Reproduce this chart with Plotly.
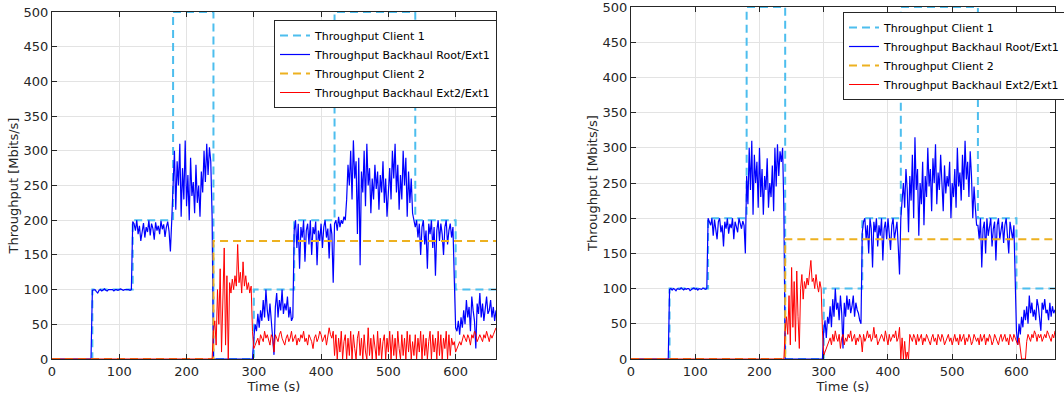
import numpy as np
import plotly.graph_objects as go

# Time grid (s) for the measured series, 2 s sampling
time_s = np.arange(0, 661, 2)

# Step-shaped offered loads
client1_t = [0, 60, 60, 120, 120, 180, 180, 240, 240, 300, 300, 360, 360, 420, 420, 540, 540, 600, 600, 660]
client1_v = [0, 0, 100, 100, 200, 200, 500, 500, 0, 0, 100, 100, 200, 200, 500, 500, 200, 200, 100, 100]
client2_t = [0, 240, 240, 660]
client2_v = [0, 0, 170, 170]

# ---------------- Left chart ----------------
root_left = (
    [0] * 30
    + [99, 100, 100, 97, 95, 99, 100, 98, 100, 101, 99, 98, 100, 100, 99, 100, 98, 100, 100, 99,
       100, 101, 100, 99, 100, 100, 101, 100, 99, 100]
    + [198, 195, 185, 200, 180, 192, 170, 188, 196, 175, 190, 183, 200, 178, 195, 188, 172, 197, 185, 192,
       180, 199, 187, 194, 176, 190, 198, 184, 155, 200]
    + [240, 300, 215, 285, 250, 310, 205, 275, 230, 315, 220, 265, 200, 290, 235, 255, 210, 280, 225, 250,
       205, 270, 240, 300, 255, 310, 265, 305, 285, 205]
    + [0] * 30
    + [30, 50, 40, 65, 45, 70, 55, 85, 60, 100, 70, 55, 80, 60, 30, 6, 75, 95, 60, 85,
       70, 100, 65, 80, 70, 90, 60, 75, 55, 60]
    + [185, 200, 160, 195, 130, 190, 175, 200, 140, 185, 195, 165, 200, 150, 190, 180, 198, 135, 185, 170,
       195, 160, 190, 200, 175, 188, 145, 195, 180, 110]
    + [195, 200, 185, 205, 190, 200, 195, 205, 200, 230, 280, 250, 300, 230, 315, 260, 285, 180, 290, 135,
       270, 240, 300, 220, 310, 250, 275, 210, 260, 230, 280, 245, 270, 215, 265, 240, 285, 225, 260, 205,
       250, 275, 230, 300, 260, 310, 240, 280, 215, 265, 230, 300, 250, 290, 205, 270, 225, 260, 210, 200]
    + [190, 200, 175, 195, 150, 190, 200, 165, 185, 130, 195, 180, 200, 160, 190, 120, 185, 200, 170, 195,
       180, 150, 190, 200, 165, 185, 195, 175, 190, 115]
    + [45, 40, 55, 35, 60, 45, 70, 50, 85, 60, 75, 40, 90, 70, 55, 15, 80, 65, 95, 60,
       80, 55, 75, 90, 65, 70, 85, 60, 75, 55, 70]
)

ext_left = (
    [0] * 120
    + [40, 55, 20, 100, 50, 130, 10, 90, 160, 20, 120, 0, 110, 95, 115, 100, 120, 105, 165, 110,
       125, 95, 140, 105, 120, 100, 110, 95, 105, 40]
    + [15, 20, 25, 30, 20, 35, 30, 25, 40, 30, 35, 25, 20, 35, 30, 10, 35, 30, 25, 35,
       40, 30, 25, 20, 30, 35, 25, 30, 40, 25, 30, 35, 20, 30, 25, 35, 30, 40, 25, 30,
       20, 35, 30, 25, 15, 30, 35, 25, 30, 40, 35, 25, 30, 35, 20, 30, 45, 35, 30, 40]
    + [5, 35, 0, 30, 10, 40, 0, 25, 35, 0, 30, 5, 40, 0, 35, 15, 0, 30, 40, 5,
       30, 0, 35, 10, 0, 45, 5, 30, 0, 35, 20, 0, 40, 5, 30, 0, 25, 35, 0, 30,
       10, 40, 0, 35, 5, 30, 0, 40, 15, 0, 35, 5, 30, 0, 40, 10, 35, 0, 25, 5,
       35, 0, 30, 10, 40, 0, 35, 5, 30, 0, 25, 40, 0, 35, 10, 30, 0, 40, 5, 35,
       0, 30, 15, 40, 0, 35, 5, 30, 20, 25]
    + [10, 15, 20, 25, 20, 30, 35, 30, 25, 35, 30, 20, 35, 30, 40, 35, 25, 30, 35, 30,
       25, 35, 30, 40, 30, 25, 35, 30, 35, 40, 45]
)

# ---------------- Right chart ----------------
root_right = (
    [0] * 30
    + [99, 100, 98, 100, 99, 97, 100, 100, 99, 101, 100, 98, 100, 99, 100, 100, 97, 99, 100, 101,
       99, 100, 98, 100, 100, 99, 101, 100, 99, 100]
    + [200, 195, 190, 200, 175, 198, 185, 170, 195, 200, 180, 190, 160, 195, 185, 200, 178, 192, 186, 200,
       170, 195, 188, 180, 200, 192, 185, 196, 190, 150]
    + [260, 220, 300, 240, 310, 205, 290, 250, 280, 215, 300, 230, 270, 205, 260, 240, 285, 215, 250, 230,
       275, 210, 300, 245, 305, 260, 295, 280, 300, 210]
    + [0] * 30
    + [40, 55, 30, 60, 50, 75, 45, 85, 60, 100, 70, 80, 55, 90, 65, 15, 80, 60, 90, 70,
       85, 65, 75, 90, 60, 80, 70, 65, 55, 50]
    + [180, 195, 200, 170, 190, 150, 200, 185, 130, 195, 180, 200, 160, 190, 175, 200, 140, 185, 195, 170,
       200, 180, 155, 190, 200, 170, 185, 195, 160, 120]
    + [200, 230, 250, 215, 270, 240, 180, 260, 225, 290, 200, 315, 240, 270, 175, 250, 220, 280, 190, 260,
       230, 300, 245, 270, 210, 285, 250, 305, 220, 265, 240, 290, 255, 210, 275, 235, 260, 245, 280, 200,
       250, 230, 270, 215, 300, 245, 265, 225, 290, 240, 310, 255, 280, 230, 295, 260, 200, 245, 215, 190]
    + [190, 170, 200, 130, 185, 195, 150, 200, 175, 190, 200, 160, 185, 195, 140, 190, 200, 170, 185, 195,
       165, 190, 200, 180, 150, 195, 185, 170, 190, 120]
    + [40, 20, 50, 35, 60, 45, 70, 55, 75, 50, 90, 65, 80, 60, 70, 55, 85, 75, 60, 40,
       80, 70, 85, 65, 70, 55, 80, 60, 75, 65, 70]
)

ext_right = (
    [0] * 120
    + [40, 60, 35, 90, 20, 130, 45, 110, 25, 125, 60, 15, 100, 120, 85, 110, 100, 115, 105, 120,
       140, 110, 115, 100, 120, 105, 95, 110, 100, 40]
    + [5, 10, 15, 20, 25, 30, 20, 35, 25, 40, 30, 25, 35, 15, 30, 35, 20, 30, 25, 35,
       30, 40, 25, 30, 35, 20, 30, 25, 35, 30, 10, 35, 25, 30, 40, 30, 35, 25, 30, 45,
       30, 35, 20, 25, 30, 35, 30, 25, 40, 30, 20, 35, 25, 30, 35, 30, 40, 25, 30, 45]
    + [0, 30, 0, 25, 0, 10, 0, 35, 30, 25, 35, 30, 20, 35, 25, 30, 35, 20, 30, 25,
       35, 30, 25, 20, 30, 35, 25, 30, 20, 35, 30, 25, 35, 30, 20, 25, 30, 35, 25, 30,
       20, 30, 35, 25, 30, 20, 35, 25, 30, 35, 20, 30, 25, 35, 30, 20, 25, 35, 30, 25,
       30, 20, 35, 25, 30, 35, 20, 30, 25, 35, 30, 20, 25, 35, 30, 25, 20, 30, 35, 25,
       30, 35, 25, 30, 20, 35, 30, 25, 35, 30]
    + [25, 20, 30, 15, 0, 0, 0, 0, 25, 35, 30, 25, 35, 30, 40, 35, 25, 35, 30, 35,
       25, 30, 35, 30, 40, 35, 30, 25, 35, 30, 40]
)

names = ["Throughput Client 1", "Throughput Backhaul Root/Ext1",
         "Throughput Client 2", "Throughput Backhaul Ext2/Ext1"]
C1, ROOT, C2, EXT = "#4DBEEE", "#0000FF", "#EDB120", "#FF0000"
DASH = "8px,5px"
FONT = "DejaVu Sans"
AX = "#262626"

fig = go.Figure()

for k, (root, ext) in enumerate([(root_left, ext_left), (root_right, ext_right)]):
    xa = "x" if k == 0 else "x2"
    ya = "y" if k == 0 else "y2"
    lg = "legend" if k == 0 else "legend2"
    fig.add_trace(go.Scatter(x=client1_t, y=client1_v, mode="lines", name=names[0],
                             line=dict(color=C1, width=2, dash=DASH), xaxis=xa, yaxis=ya, legend=lg))
    fig.add_trace(go.Scatter(x=time_s, y=root, mode="lines", name=names[1],
                             line=dict(color=ROOT, width=1.2), xaxis=xa, yaxis=ya, legend=lg))
    fig.add_trace(go.Scatter(x=client2_t, y=client2_v, mode="lines", name=names[2],
                             line=dict(color=C2, width=2, dash=DASH), xaxis=xa, yaxis=ya, legend=lg))
    fig.add_trace(go.Scatter(x=time_s, y=ext, mode="lines", name=names[3],
                             line=dict(color=EXT, width=1), xaxis=xa, yaxis=ya, legend=lg))

W, H = 1064, 398
axis_common = dict(showline=True, linecolor=AX, linewidth=1, mirror="ticks", ticks="inside",
                   ticklen=5, tickcolor=AX, showgrid=True, gridcolor="#E3E3E3", zeroline=False,
                   automargin=False, ticklabeloverflow="allow",
                   tickfont=dict(family=FONT, size=13, color=AX))
xcommon = dict(axis_common, range=[0, 660], tickvals=[0, 100, 200, 300, 400, 500, 600],
               title=dict(text="Time (s)", font=dict(family=FONT, size=13, color=AX), standoff=2))
ycommon = dict(axis_common, range=[0, 500], tickvals=list(range(0, 501, 50)),
               title=dict(text="Throughput [Mbits/s]", font=dict(family=FONT, size=13, color=AX), standoff=2))

legend_common = dict(bgcolor="white", bordercolor=AX, borderwidth=1, xanchor="left", yanchor="top",
                     font=dict(family=FONT, size=11, color="#000000"), tracegroupgap=0,
                     itemwidth=30)

fig.update_layout(
    width=W, height=H, margin=dict(l=0, r=0, t=0, b=0, autoexpand=False),
    paper_bgcolor="white", plot_bgcolor="white",
    font=dict(family=FONT),
    xaxis=dict(xcommon, domain=[52 / W, 496 / W], anchor="y"),
    yaxis=dict(ycommon, domain=[1 - 359 / H, 1 - 12 / H], anchor="x"),
    xaxis2=dict(xcommon, domain=[631 / W, 1055 / W], anchor="y2"),
    yaxis2=dict(ycommon, domain=[1 - 359 / H, 1 - 7 / H], anchor="x2"),
    legend=dict(legend_common, x=274 / W, y=1 - 20 / H),
    legend2=dict(legend_common, x=843 / W, y=1 - 12 / H),
    showlegend=True,
)

fig.write_html("out.html")
